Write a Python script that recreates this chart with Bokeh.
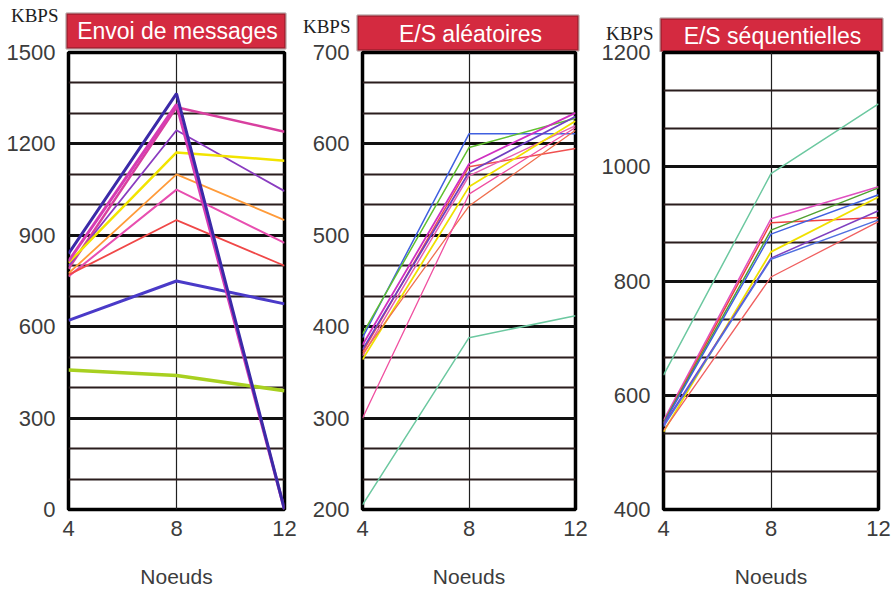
from bokeh.plotting import figure
from bokeh.layouts import row, column
from bokeh.models import FixedTicker, BoxAnnotation, Label
from bokeh.embed import file_html
from bokeh.resources import INLINE

# ---------------- data ----------------
nodes = [4, 8, 12]
x_ticks = [4, 8, 12]
titles = ["Envoi de messages", "E/S aléatoires", "E/S séquentielles"]
unit_label = "KBPS"
x_label = "Noeuds"

# Panel 1 : Envoi de messages (KBPS)
msg_darkblue = [840, 1365, 0]
msg_magenta = [815, 1330, 0]
msg_pink_top = [790, 1320, 1240]
msg_purple = [800, 1245, 1045]
msg_yellow = [810, 1172, 1145]
msg_orange = [775, 1100, 950]
msg_pink = [765, 1050, 875]
msg_red = [770, 950, 800]
msg_blue = [621, 750, 675]
msg_green = [458, 440, 390]
msg_major = [0, 300, 600, 900, 1200, 1500]
msg_minor = [100, 200, 400, 500, 700, 800, 1000, 1100, 1300, 1400]

# Panel 2 : E/S aléatoires
rnd_blue = [388, 611, 611]
rnd_green = [392, 596, 628]
rnd_cyan = [205, 388, 412]
rnd_magenta = [380, 578, 634]
rnd_purple = [375, 569, 630]
rnd_red = [372, 575, 595]
rnd_pink = [368, 565, 620]
rnd_yellow = [364, 553, 625]
rnd_orange = [370, 532, 615]
rnd_pink2 = [300, 545, 618]
rnd_major = [200, 300, 400, 500, 600, 700]
rnd_minor = [233.3, 266.7, 333.3, 366.7, 433.3, 466.7, 533.3, 566.7, 633.3, 666.7]

# Panel 3 : E/S séquentielles
seq_green = [635, 988, 1110]
seq_magenta = [556, 909, 965]
seq_red = [552, 902, 911]
seq_dgreen = [552, 889, 963]
seq_blue = [550, 882, 951]
seq_yellow = [536, 851, 947]
seq_purple = [548, 840, 923]
seq_blue2 = [545, 838, 907]
seq_red2 = [538, 807, 904]
seq_major = [400, 600, 800, 1000, 1200]
seq_minor = [466.7, 533.3, 666.7, 733.3, 866.7, 933.3, 1066.7, 1133.3]

SANS = "Liberation Sans"
TXT = "#3c3c3c"

# ---------------- header strip (title boxes + unit labels) ----------------
HW, HH = 893, 52
header = figure(width=HW, height=HH, x_range=(0, HW), y_range=(0, HH),
                output_backend="svg", toolbar_location=None, title=None,
                min_border_left=0, min_border_right=0,
                min_border_top=0, min_border_bottom=0)
header.axis.visible = False
header.grid.visible = False
header.outline_line_color = None

# (box left, box right, box bottom, box top, text x, text y, unit x, unit y)
header_layout = [
    (66, 285, 4, 39, 177, 22, 58, 37),
    (357, 578, 2, 37, 470, 19, 350, 26),
    (660, 882, 1, 34, 772, 17, 653, 19),
]
for title, (bl, br, bb, bt, tx, ty, ux, uy) in zip(titles, header_layout):
    header.add_layout(BoxAnnotation(left=bl, right=br, bottom=bb, top=bt,
                                    fill_color="#d42a40", fill_alpha=1.0,
                                    line_color="#2a0508", line_width=2.5))
    header.add_layout(Label(x=tx, y=ty, text=title, text_align="center",
                            text_baseline="middle", text_color="white",
                            text_font=SANS, text_font_size="23px"))
    header.add_layout(Label(x=ux, y=uy, text=unit_label,
                            text_align="right", text_baseline="middle",
                            text_color="#1e1e1e", text_font="Liberation Serif",
                            text_font_size="19px"))


def make_panel(yr, majors, minors, series, width, height,
               left, right, top, bottom):
    p = figure(width=width, height=height, x_range=(4, 12), y_range=yr,
               output_backend="svg", toolbar_location=None, title=None,
               min_border_left=left, min_border_right=right,
               min_border_top=top, min_border_bottom=bottom)
    p.background_fill_color = "white"
    p.border_fill_color = None
    p.outline_line_color = "black"
    p.outline_line_width = 3.5

    p.xaxis.ticker = FixedTicker(ticks=x_ticks)
    p.yaxis.ticker = FixedTicker(ticks=majors, minor_ticks=minors)
    for ax in (p.xaxis[0], p.yaxis[0]):
        ax.axis_line_color = None
        ax.major_tick_line_color = None
        ax.minor_tick_line_color = None
        ax.major_label_text_font = SANS
        ax.major_label_text_font_size = "22px"
        ax.major_label_text_color = TXT
        ax.major_label_standoff = 5
    p.yaxis.major_label_standoff = 7
    p.xaxis.axis_label = x_label
    p.xaxis.axis_label_text_font = SANS
    p.xaxis.axis_label_text_font_size = "21px"
    p.xaxis.axis_label_text_font_style = "normal"
    p.xaxis.axis_label_text_color = TXT
    p.xaxis.axis_label_standoff = 26

    p.xgrid.ticker = FixedTicker(ticks=[8])
    p.xgrid.grid_line_color = "#202020"
    p.xgrid.grid_line_width = 1.2
    p.ygrid.ticker = FixedTicker(ticks=majors, minor_ticks=minors)
    p.ygrid.grid_line_color = "#111111"
    p.ygrid.grid_line_width = 3
    p.ygrid.minor_grid_line_color = "#2a1d1d"
    p.ygrid.minor_grid_line_width = 1.8

    for vals, color, lw in series:
        p.line(nodes, vals, line_color=color, line_width=lw)
    return p


p1 = make_panel((0, 1500), msg_major, msg_minor, [
    (msg_pink_top, "#d8409f", 2.5),
    (msg_purple, "#8a3cc0", 1.8),
    (msg_yellow, "#f2e400", 2.5),
    (msg_orange, "#ff9b3a", 1.8),
    (msg_pink, "#e84fb0", 2),
    (msg_red, "#f04848", 1.8),
    (msg_blue, "#4a3ac8", 3),
    (msg_green, "#a8d020", 3.5),
    (msg_magenta, "#d63cb4", 3),
    (msg_darkblue, "#3b2aa8", 3),
], 300, 553, 68, 16, 13, 83)

p2 = make_panel((200, 700), rnd_major, rnd_minor, [
    (rnd_blue, "#4060e0", 1.5),
    (rnd_green, "#60c030", 1.5),
    (rnd_cyan, "#6cc8a0", 1.5),
    (rnd_red, "#f05050", 1.5),
    (rnd_pink, "#e860b0", 1.5),
    (rnd_yellow, "#f0e000", 1.8),
    (rnd_orange, "#f07050", 1.3),
    (rnd_pink2, "#f050a0", 1.3),
    (rnd_magenta, "#d030c0", 1.8),
    (rnd_purple, "#7040c0", 1.8),
], 295, 553, 62, 20, 13, 83)

p3 = make_panel((400, 1200), seq_major, seq_minor, [
    (seq_green, "#6cc8a0", 1.5),
    (seq_magenta, "#e050c0", 1.5),
    (seq_red, "#f04040", 1.5),
    (seq_dgreen, "#50a030", 1.5),
    (seq_blue, "#4060e0", 1.5),
    (seq_yellow, "#f0e000", 1.8),
    (seq_purple, "#8040c0", 1.5),
    (seq_blue2, "#5070e0", 1.5),
    (seq_red2, "#f06060", 1.3),
], 298, 553, 68, 15, 13, 83)

panels = row(p1, p2, p3, margin=(-13, 0, 0, 0))
layout = column(header, panels)
open("out.html", "w").write(file_html(layout, INLINE))
